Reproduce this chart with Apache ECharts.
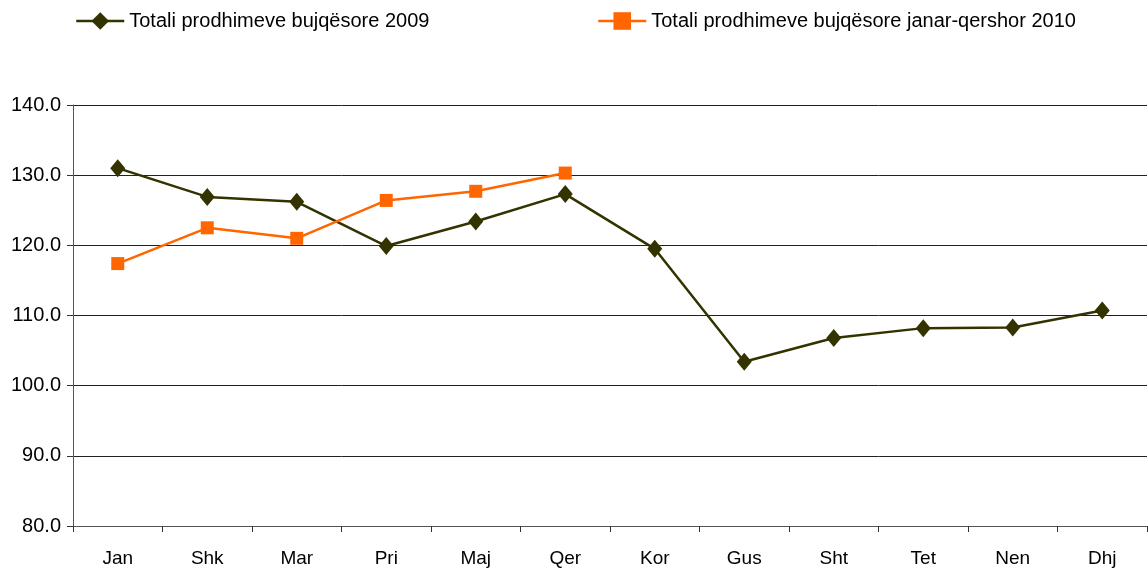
<!DOCTYPE html>
<html lang="en">
<head>
<meta charset="utf-8">
<title>Prodhimet bujqësore</title>
<script src="https://cdn.jsdelivr.net/npm/echarts@6/dist/echarts.min.js"></script>
</head>
<body style="margin:0">
<div id="chart" style="width:1148px;height:573px"></div>
<script>
const months = ['Jan', 'Shk', 'Mar', 'Pri', 'Maj', 'Qer', 'Kor', 'Gus', 'Sht', 'Tet', 'Nen', 'Dhj'];
const name2009 = 'Totali prodhimeve bujqësore 2009';
const name2010 = 'Totali prodhimeve bujqësore janar-qershor 2010';
const values2009 = [131.0, 126.9, 126.2, 119.9, 123.4, 127.3, 119.5, 103.4, 106.8, 108.2, 108.3, 110.7];
const values2010 = [117.4, 122.5, 121.0, 126.4, 127.7, 130.3];

const font = 'Liberation Sans, Arial, sans-serif';
const chart = echarts.init(document.getElementById('chart'));
const legendText = { fontFamily: font, fontSize: 20, color: '#000' };

chart.setOption({
  animation: false,
  legend: [
    { data: [name2009], left: 75, top: 11, padding: 0, itemWidth: 48, itemHeight: 22, itemGap: 4,
      lineStyle: { width: 2.5 }, textStyle: legendText },
    { data: [name2010], left: 597, top: 11, padding: 0, itemWidth: 48, itemHeight: 22, itemGap: 4,
      lineStyle: { width: 2.5 }, textStyle: legendText }
  ],
  grid: { left: 73, right: 1, top: 105, bottom: 47 },
  xAxis: {
    type: 'category',
    data: months,
    boundaryGap: true,
    axisLine: { lineStyle: { color: '#555', width: 1 } },
    axisTick: { show: true, alignWithLabel: false, length: 6, lineStyle: { color: '#333' } },
    axisLabel: { fontFamily: font, fontSize: 19, color: '#000', margin: 23 }
  },
  yAxis: {
    type: 'value',
    min: 80, max: 140, interval: 10,
    axisLine: { show: true, lineStyle: { color: '#555' } },
    axisTick: { show: true, length: 6, lineStyle: { color: '#333' } },
    axisLabel: { fontFamily: font, fontSize: 20, color: '#000', margin: 12, formatter: v => v.toFixed(1) },
    splitLine: { lineStyle: { color: '#222', width: 1 } }
  },
  series: [
    {
      name: name2009, type: 'line', data: values2009,
      symbol: 'diamond', symbolSize: [15, 18],
      lineStyle: { color: '#333300', width: 2.5 },
      itemStyle: { color: '#333300' }
    },
    {
      name: name2010, type: 'line', data: values2010,
      symbol: 'rect', symbolSize: 13,
      lineStyle: { color: '#FF6600', width: 2.5 },
      itemStyle: { color: '#FF6600' }
    }
  ]
});
</script>
</body>
</html>
